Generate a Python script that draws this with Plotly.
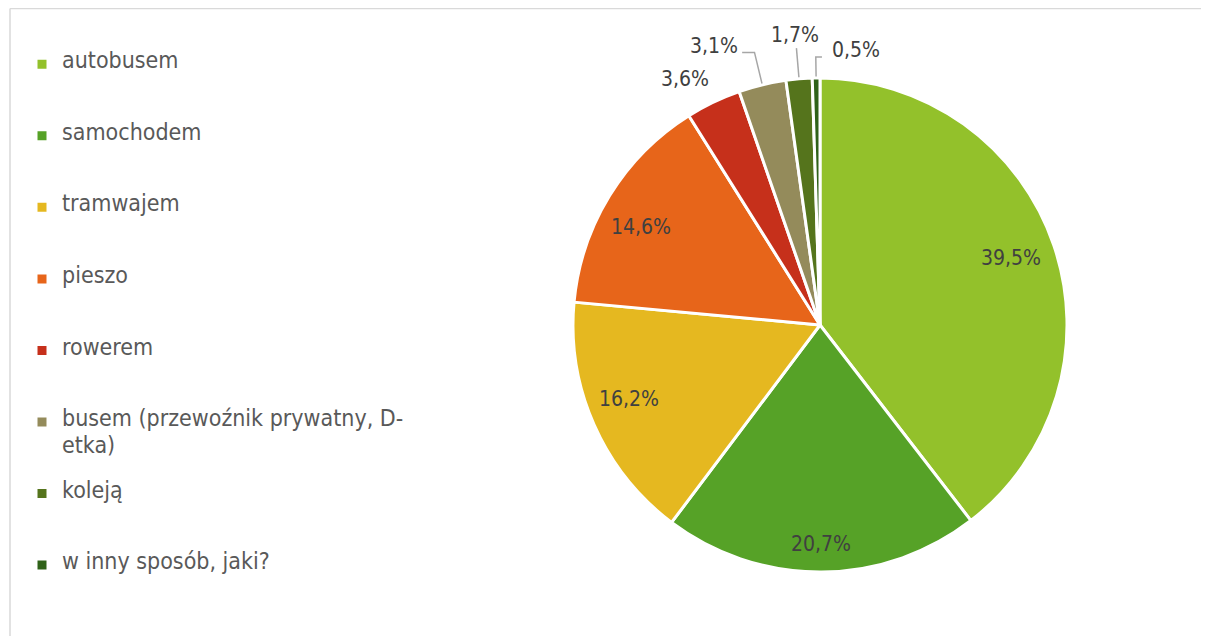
import math
import plotly.graph_objects as go

categories = [
    "autobusem",
    "samochodem",
    "tramwajem",
    "pieszo",
    "rowerem",
    "busem (przewoźnik prywatny, D-etka)",
    "koleją",
    "w inny sposób, jaki?",
]
values = [39.5, 20.7, 16.2, 14.6, 3.6, 3.1, 1.7, 0.5]
colors = ["#93C12B", "#56A227", "#E5B820", "#E7651A", "#C6301B", "#948B5B", "#55741C", "#2F6219"]

FONT = "DejaVu Sans Condensed, DejaVu Sans, sans-serif"
NB = "\u00a0"
LABEL_COLOR = "#404040"

# ---- label placement style (radius fractions + pixel nudges) ----
inside_style = {
    0: dict(r=0.815, xshift=0, yshift=2),
    1: dict(r=0.89, xshift=0, yshift=1),
    2: dict(r=0.83, xshift=-4, yshift=9),
    3: dict(r=0.84, xshift=-2, yshift=-11),
}
outside_style = {
    4: dict(r_elbow=None, r_text=1.10, dx=0.0, xanchor="center", yanchor="middle", xshift=-18, yshift=1),
    5: dict(r_elbow=1.135, r_text=None, dx=-0.05, xanchor="right", yanchor="middle", xshift=-2, yshift=6),
    6: dict(r_elbow=1.125, r_text=None, dx=0.0, xanchor="center", yanchor="bottom", xshift=-1, yshift=-1),
    7: dict(r_elbow=1.085, r_text=None, dx=0.025, xanchor="left", yanchor="middle", xshift=8, yshift=7),
}

# pie geometry in pixels: square domain around the centre
W, H = 1209, 636
CX, CY, R = 812, 317, 247
dom_x = [(CX - R) / W, (CX + R) / W]
dom_y = [(H - CY - R) / H, (H - CY + R) / H]


def legend_label(name):
    if "D-" in name:
        first, rest = name.split("D-", 1)
        lines = [first + "D-", NB, rest, NB, NB]
    else:
        lines = [name, NB, NB, NB, NB]
    return "<br>".join(
        ln if ln == NB else "<span style='font-size:23px'>" + ln + "</span>" for ln in lines
    )


def fmt(v):
    return f"{v:.1f}%".replace(".", ",")


total = sum(values)
mids = []
acc = 0.0
for v in values:
    mids.append(2 * math.pi * (acc + v / 2) / total)
    acc += v

fig = go.Figure()

# leader lines (drawn under the pie; visible part lies outside it)
for i, st in outside_style.items():
    if st["r_elbow"] is None:
        continue
    sx, cy_ = math.sin(mids[i]), math.cos(mids[i])
    ex, ey = st["r_elbow"] * sx, st["r_elbow"] * cy_
    fig.add_trace(go.Scatter(x=[0.98 * sx, ex, ex + st["dx"]], y=[0.98 * cy_, ey, ey], mode="lines",
                             line=dict(color="#A6A6A6", width=1.5),
                             showlegend=False, hoverinfo="skip"))

fig.add_trace(
    go.Pie(
        labels=[legend_label(c) for c in categories],
        values=values,
        sort=False,
        direction="clockwise",
        rotation=0,
        marker=dict(colors=colors, line=dict(color="white", width=3)),
        textinfo="none",
        domain=dict(x=dom_x, y=dom_y),
        hoverinfo="skip",
    )
)

annotations = []
for i, st in inside_style.items():
    annotations.append(dict(
        x=st["r"] * math.sin(mids[i]), y=st["r"] * math.cos(mids[i]), xref="x", yref="y",
        text=fmt(values[i]), showarrow=False, xshift=st["xshift"], yshift=st["yshift"],
        font=dict(family=FONT, size=21, color=LABEL_COLOR),
    ))
for i, st in outside_style.items():
    sx, cy_ = math.sin(mids[i]), math.cos(mids[i])
    if st["r_elbow"] is None:
        tx, ty = st["r_text"] * sx, st["r_text"] * cy_
    else:
        tx, ty = st["r_elbow"] * sx + st["dx"], st["r_elbow"] * cy_
    annotations.append(dict(
        x=tx, y=ty, xref="x", yref="y", text=fmt(values[i]), showarrow=False,
        xanchor=st["xanchor"], yanchor=st["yanchor"], xshift=st["xshift"], yshift=st["yshift"],
        font=dict(family=FONT, size=21, color=LABEL_COLOR),
    ))

fig.update_layout(
    width=W,
    height=H,
    margin=dict(l=0, r=0, t=0, b=0),
    paper_bgcolor="white",
    plot_bgcolor="rgba(0,0,0,0)",
    showlegend=True,
    xaxis=dict(domain=[0, 1], range=[-CX / R, (W - CX) / R], visible=False, fixedrange=True),
    yaxis=dict(domain=[0, 1], range=[-(H - CY) / R, CY / R], visible=False, fixedrange=True),
    annotations=annotations,
    legend=dict(
        x=14 / W,
        y=1 - 43 / H,
        xanchor="left",
        yanchor="top",
        valign="top",
        font=dict(family=FONT, size=10.54, color="#595959"),
        bgcolor="rgba(0,0,0,0)",
    ),
    shapes=[
        dict(type="line", xref="paper", yref="paper", x0=2 / W, x1=1.0,
             y0=1 - 0.5 / H, y1=1 - 0.5 / H, line=dict(color="#D9D9D9", width=1.5)),
        dict(type="line", xref="paper", yref="paper", x0=2 / W, x1=2 / W,
             y0=0, y1=1 - 0.5 / H, line=dict(color="#D9D9D9", width=1.5)),
    ],
)

fig.write_html("out.html")
